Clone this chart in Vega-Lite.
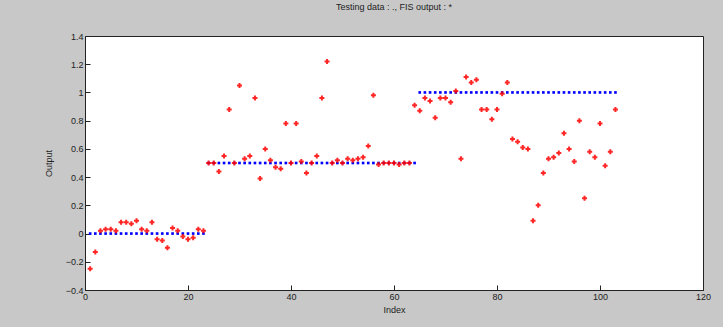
{
  "$schema": "https://vega.github.io/schema/vega-lite/v6.json",
  "autosize": "none",
  "width": 618,
  "height": 254,
  "padding": {"left": 85, "top": 36, "right": 20, "bottom": 37},
  "background": "#c8c8c8",
  "title": {"text": "Testing data : ., FIS output : *", "fontSize": 9, "fontWeight": "normal", "font": "Liberation Sans", "color": "#222", "offset": 20},
  "config": {
    "view": {"fill": "white", "stroke": "#222", "strokeWidth": 1},
    "axis": {"grid": false, "domainColor": "#222", "tickColor": "#222", "labelColor": "#222", "titleColor": "#222", "labelFont": "Liberation Sans", "titleFont": "Liberation Sans", "labelFontSize": 9, "titleFontSize": 9, "titleFontWeight": "normal", "tickSize": -5, "labelOverlap": false, "labelFlush": false, "labelBound": false}
  },
  "data": {"values": [
    {"index": 1, "target": 0, "output": -0.25},
    {"index": 2, "target": 0, "output": -0.13},
    {"index": 3, "target": 0, "output": 0.02},
    {"index": 4, "target": 0, "output": 0.03},
    {"index": 5, "target": 0, "output": 0.03},
    {"index": 6, "target": 0, "output": 0.02},
    {"index": 7, "target": 0, "output": 0.08},
    {"index": 8, "target": 0, "output": 0.08},
    {"index": 9, "target": 0, "output": 0.07},
    {"index": 10, "target": 0, "output": 0.09},
    {"index": 11, "target": 0, "output": 0.03},
    {"index": 12, "target": 0, "output": 0.02},
    {"index": 13, "target": 0, "output": 0.08},
    {"index": 14, "target": 0, "output": -0.04},
    {"index": 15, "target": 0, "output": -0.05},
    {"index": 16, "target": 0, "output": -0.1},
    {"index": 17, "target": 0, "output": 0.04},
    {"index": 18, "target": 0, "output": 0.02},
    {"index": 19, "target": 0, "output": -0.02},
    {"index": 20, "target": 0, "output": -0.04},
    {"index": 21, "target": 0, "output": -0.03},
    {"index": 22, "target": 0, "output": 0.03},
    {"index": 23, "target": 0, "output": 0.02},
    {"index": 24, "target": 0.5, "output": 0.5},
    {"index": 25, "target": 0.5, "output": 0.5},
    {"index": 26, "target": 0.5, "output": 0.44},
    {"index": 27, "target": 0.5, "output": 0.55},
    {"index": 28, "target": 0.5, "output": 0.88},
    {"index": 29, "target": 0.5, "output": 0.5},
    {"index": 30, "target": 0.5, "output": 1.05},
    {"index": 31, "target": 0.5, "output": 0.53},
    {"index": 32, "target": 0.5, "output": 0.55},
    {"index": 33, "target": 0.5, "output": 0.96},
    {"index": 34, "target": 0.5, "output": 0.39},
    {"index": 35, "target": 0.5, "output": 0.6},
    {"index": 36, "target": 0.5, "output": 0.52},
    {"index": 37, "target": 0.5, "output": 0.47},
    {"index": 38, "target": 0.5, "output": 0.46},
    {"index": 39, "target": 0.5, "output": 0.78},
    {"index": 40, "target": 0.5, "output": 0.5},
    {"index": 41, "target": 0.5, "output": 0.78},
    {"index": 42, "target": 0.5, "output": 0.51},
    {"index": 43, "target": 0.5, "output": 0.43},
    {"index": 44, "target": 0.5, "output": 0.5},
    {"index": 45, "target": 0.5, "output": 0.55},
    {"index": 46, "target": 0.5, "output": 0.96},
    {"index": 47, "target": 0.5, "output": 1.22},
    {"index": 48, "target": 0.5, "output": 0.5},
    {"index": 49, "target": 0.5, "output": 0.52},
    {"index": 50, "target": 0.5, "output": 0.5},
    {"index": 51, "target": 0.5, "output": 0.53},
    {"index": 52, "target": 0.5, "output": 0.52},
    {"index": 53, "target": 0.5, "output": 0.53},
    {"index": 54, "target": 0.5, "output": 0.54},
    {"index": 55, "target": 0.5, "output": 0.62},
    {"index": 56, "target": 0.5, "output": 0.98},
    {"index": 57, "target": 0.5, "output": 0.49},
    {"index": 58, "target": 0.5, "output": 0.5},
    {"index": 59, "target": 0.5, "output": 0.5},
    {"index": 60, "target": 0.5, "output": 0.5},
    {"index": 61, "target": 0.5, "output": 0.49},
    {"index": 62, "target": 0.5, "output": 0.5},
    {"index": 63, "target": 0.5, "output": 0.5},
    {"index": 64, "target": 0.5, "output": 0.91},
    {"index": 65, "target": 1, "output": 0.87},
    {"index": 66, "target": 1, "output": 0.96},
    {"index": 67, "target": 1, "output": 0.94},
    {"index": 68, "target": 1, "output": 0.82},
    {"index": 69, "target": 1, "output": 0.96},
    {"index": 70, "target": 1, "output": 0.96},
    {"index": 71, "target": 1, "output": 0.93},
    {"index": 72, "target": 1, "output": 1.01},
    {"index": 73, "target": 1, "output": 0.53},
    {"index": 74, "target": 1, "output": 1.11},
    {"index": 75, "target": 1, "output": 1.07},
    {"index": 76, "target": 1, "output": 1.09},
    {"index": 77, "target": 1, "output": 0.88},
    {"index": 78, "target": 1, "output": 0.88},
    {"index": 79, "target": 1, "output": 0.81},
    {"index": 80, "target": 1, "output": 0.88},
    {"index": 81, "target": 1, "output": 0.99},
    {"index": 82, "target": 1, "output": 1.07},
    {"index": 83, "target": 1, "output": 0.67},
    {"index": 84, "target": 1, "output": 0.65},
    {"index": 85, "target": 1, "output": 0.61},
    {"index": 86, "target": 1, "output": 0.6},
    {"index": 87, "target": 1, "output": 0.09},
    {"index": 88, "target": 1, "output": 0.2},
    {"index": 89, "target": 1, "output": 0.43},
    {"index": 90, "target": 1, "output": 0.53},
    {"index": 91, "target": 1, "output": 0.54},
    {"index": 92, "target": 1, "output": 0.57},
    {"index": 93, "target": 1, "output": 0.71},
    {"index": 94, "target": 1, "output": 0.6},
    {"index": 95, "target": 1, "output": 0.51},
    {"index": 96, "target": 1, "output": 0.8},
    {"index": 97, "target": 1, "output": 0.25},
    {"index": 98, "target": 1, "output": 0.58},
    {"index": 99, "target": 1, "output": 0.54},
    {"index": 100, "target": 1, "output": 0.78},
    {"index": 101, "target": 1, "output": 0.48},
    {"index": 102, "target": 1, "output": 0.58},
    {"index": 103, "target": 1, "output": 0.88}
  ]},
  "encoding": {
    "x": {"field": "index", "type": "quantitative", "title": "Index",
      "scale": {"domain": [0, 120], "nice": false},
      "axis": {"values": [0, 20, 40, 60, 80, 100, 120], "titlePadding": 4, "labelPadding": 7}}
  },
  "layer": [
    {
      "mark": {"type": "point", "shape": "square", "filled": true, "color": "#0000ff", "size": 7, "opacity": 1},
      "encoding": {
        "y": {"field": "target", "type": "quantitative", "title": "Output",
          "scale": {"domain": [-0.4, 1.4], "nice": false},
          "axis": {"values": [-0.4, -0.2, 0, 0.2, 0.4, 0.6, 0.8, 1, 1.2, 1.4], "format": "~g", "titlePadding": 12, "labelPadding": 7, "labelOverlap": false}}
      }
    },
    {
      "mark": {"type": "point", "shape": "cross", "filled": true, "color": "#ff0000", "size": 25, "opacity": 0.85},
      "encoding": {
        "y": {"field": "output", "type": "quantitative", "title": "Output",
          "scale": {"domain": [-0.4, 1.4], "nice": false},
          "axis": {"values": [-0.4, -0.2, 0, 0.2, 0.4, 0.6, 0.8, 1, 1.2, 1.4], "format": "~g", "titlePadding": 12, "labelPadding": 7, "labelOverlap": false}}
      }
    }
  ]
}
